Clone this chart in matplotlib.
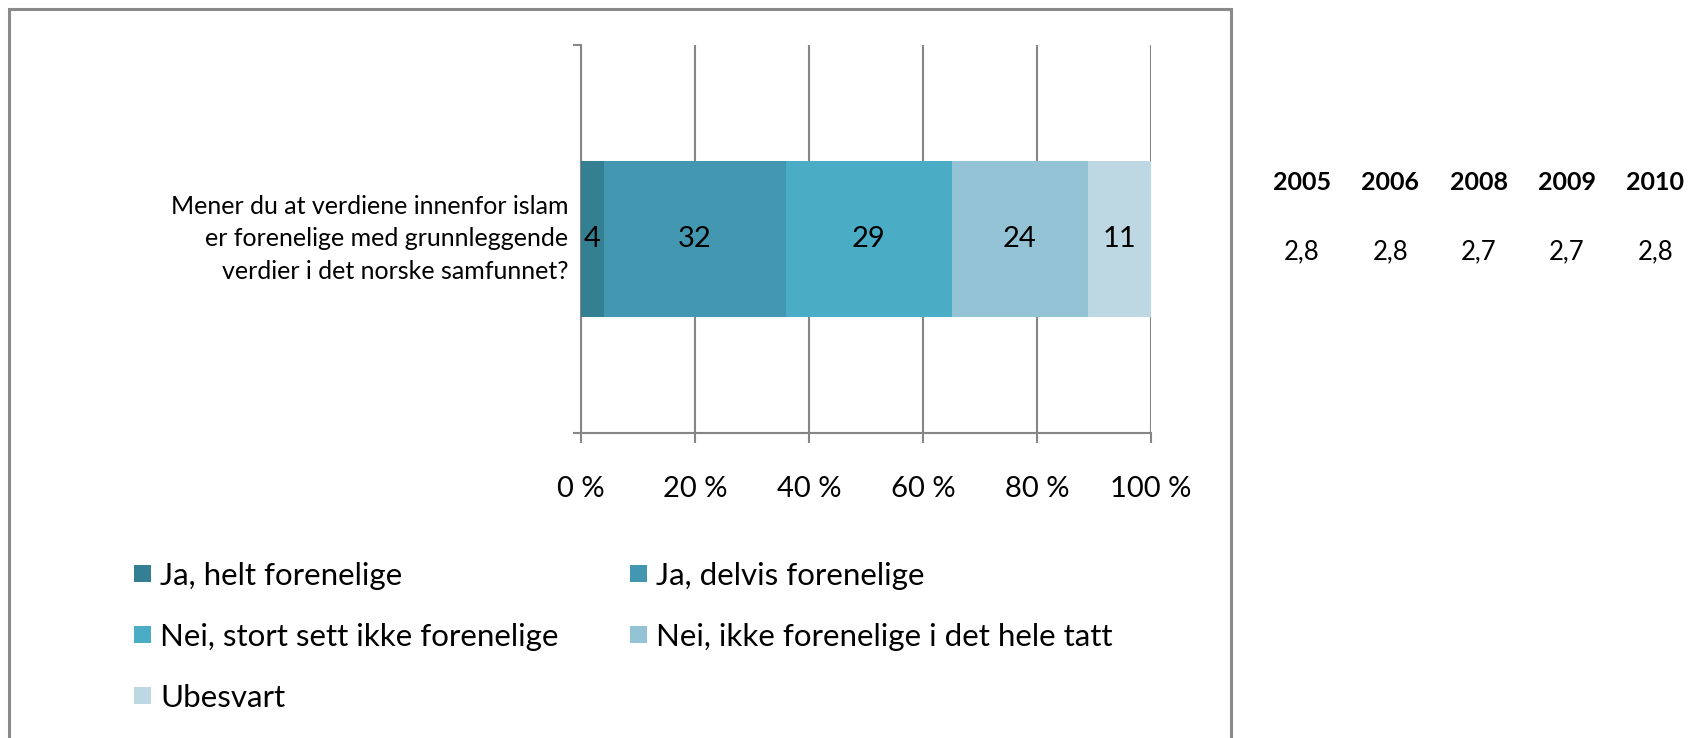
import matplotlib
matplotlib.use("Agg")
import matplotlib.pyplot as plt
from matplotlib import font_manager
from matplotlib.patches import Rectangle

# ---- data ----
question = "Mener du at verdiene innenfor islam\ner forenelige med grunnleggende\nverdier i det norske samfunnet?"
categories = ["Ja, helt forenelige", "Ja, delvis forenelige",
              "Nei, stort sett ikke forenelige", "Nei, ikke forenelige i det hele tatt",
              "Ubesvart"]
values = [4, 32, 29, 24, 11]
colors = ["#357F93", "#4397B0", "#4BACC6", "#93C3D5", "#BDD7E3"]
x_ticks = [0, 20, 40, 60, 80, 100]
years = ["2005", "2006", "2008", "2009", "2010"]
year_values = ["2,8", "2,8", "2,7", "2,7", "2,8"]

names = {f.name for f in font_manager.fontManager.ttflist}
fam = "Liberation Sans Narrow" if "Liberation Sans Narrow" in names else "Lato"
plt.rcParams['font.family'] = [fam, 'DejaVu Sans']

W, H = 1688, 738
fig = plt.figure(figsize=(W / 100, H / 100), dpi=100)

def fx(px):
    return px / W

def fy(py):
    return 1 - py / H

FS = 21
GRAY = "#868686"

ax = fig.add_axes([fx(581), fy(433), fx(1151) - fx(581), fy(45) - fy(433)])
left = 0
for v, c in zip(values, colors):
    ax.barh(0.5, v, left=left, height=0.4, color=c, zorder=3)
    ax.text(left + v / 2, 0.5, str(v), ha="center", va="center", fontsize=FS, color="black", zorder=4)
    left += v

ax.set_xlim(0, 100)
ax.set_ylim(0, 1)
ax.set_xticks(x_ticks)
ax.set_xticklabels([f"{t} %" for t in x_ticks], fontsize=FS)
ax.set_yticks([0.5])
ax.set_yticklabels([question], fontsize=18, ha="right", va="center", multialignment="right")
ax.set_yticks([0, 1], minor=True)
ax.tick_params(axis="y", which="major", length=0, pad=9)
ax.tick_params(axis="y", which="minor", length=6, width=1.5, color=GRAY, direction="out")
ax.tick_params(axis="x", length=7, width=1.5, color=GRAY, direction="out", pad=24)
for lab in ax.get_yticklabels():
    lab.set_linespacing(1.5)
ax.grid(axis="x", color=GRAY, linewidth=1.5, zorder=1)
for s in ["top", "right"]:
    ax.spines[s].set_visible(False)
for s in ["left", "bottom"]:
    ax.spines[s].set_color(GRAY)
    ax.spines[s].set_linewidth(1.5)
    ax.spines[s].set_zorder(2)

# legend (row-wise, 2 columns)
col_x = [134, 630]
row_y = [574, 635, 696]
for i, (lab, c) in enumerate(zip(categories, colors)):
    r, cidx = divmod(i, 2)
    x0, y0 = col_x[cidx], row_y[r]
    fig.patches.append(Rectangle((fx(x0), fy(y0 + 8)), fx(17), 17 / H, transform=fig.transFigure,
                                 facecolor=c, edgecolor="none"))
    fig.text(fx(x0 + 26), fy(y0 + 2), lab, fontsize=22.5, ha="left", va="center")

# side table
for j, (yr, val) in enumerate(zip(years, year_values)):
    x = 1302 + j * 88.3
    fig.text(fx(x), fy(182), yr, fontsize=18, fontweight="bold", ha="center", va="center")
    fig.text(fx(x), fy(252), val, fontsize=18.5, ha="center", va="center")

# outer border
fig.patches.append(Rectangle((fx(9), fy(760)), fx(1231) - fx(9), (760 - 9) / H,
                             transform=fig.transFigure, facecolor="none",
                             edgecolor="#8a8a8a", linewidth=2.2))

fig.savefig("out.png", dpi=100)
